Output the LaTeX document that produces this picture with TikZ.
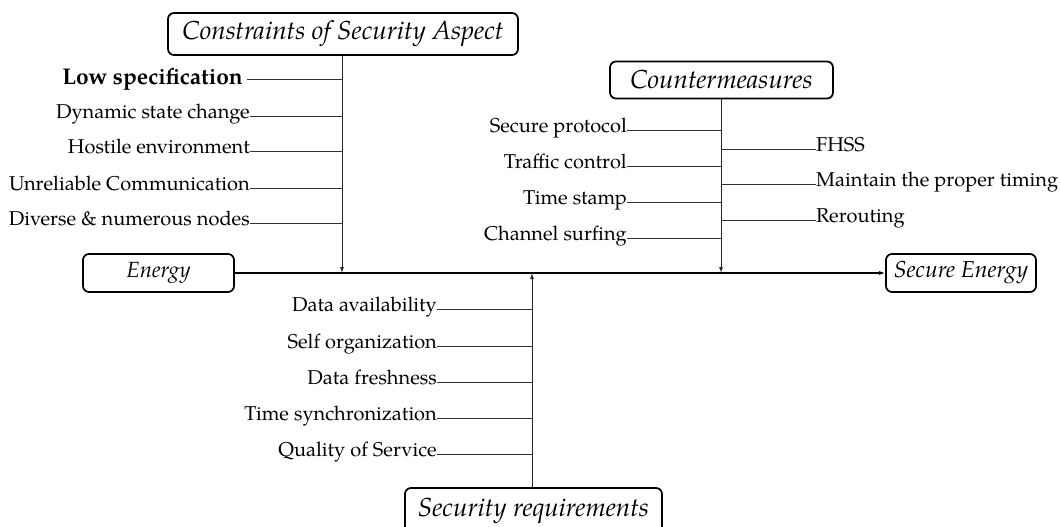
\documentclass[tikz,border=0pt]{standalone}
\usepackage{fontspec}
\setmainfont{TeX Gyre Pagella}
\usetikzlibrary{arrows.meta}
\begin{document}
\begin{tikzpicture}[x=1pt,y=-1pt,
  box/.style={draw, line width=1.7pt, rounded corners=6pt, inner sep=0pt, font=\fontsize{22}{26}\selectfont\itshape},
  bigbox/.style={box, font=\fontsize{26}{30}\selectfont\itshape},
  lbl/.style={inner sep=0pt, anchor=base east, font=\fontsize{20}{24}\selectfont},
  rlbl/.style={inner sep=0pt, anchor=base west, font=\fontsize{20}{24}\selectfont},
  conn/.style={line width=0.9pt, draw=black!80},
  trunk/.style={line width=1pt, draw=black!85},
  tip/.style={-{Latex[length=6pt,width=4pt]}}]
\useasboundingbox (0,0) rectangle (1061,527);
% boxes
\node[bigbox, minimum width=350pt, minimum height=42pt] (csa) at (343,34) {Constraints of Security Aspect};
\node[box, minimum width=151pt, minimum height=38pt] (energy) at (158.5,273) {Energy};
\node[box, minimum width=150pt, minimum height=38pt, font=\fontsize{23}{27}\selectfont\itshape] (secure) at (961,273) {Secure Energy};
\node[bigbox, minimum width=223pt, minimum height=37pt] (cm) at (721.5,80) {Countermeasures};
\node[bigbox, minimum width=257pt, minimum height=46pt] (sr) at (533.5,511) {Security requirements};
% main line
\draw[line width=1.4pt, tip] (energy.east) -- (secure.west);
% trunks
\coordinate (csaEnd) at (342,273);
\coordinate (cmEnd) at (721,273);
\coordinate (srEnd) at (532,273);
\draw[trunk, tip] (csa.south -| csaEnd) -- (csaEnd);
\draw[trunk, tip] (cm.south -| cmEnd) -- (cmEnd);
\draw[trunk, tip] (sr.north -| srEnd) -- (srEnd);
% constraints labels
\coordinate (a1s) at (247,79);
\node[lbl, font=\fontsize{22.7}{26}\selectfont\bfseries] (a1) at ([shift={(-4,5.5)}]a1s) {Low specification};
\draw[conn] (a1s) -- (a1s -| csaEnd);
\foreach \n/\y/\x/\t in {a2/116/250/{Dynamic state change},a3/151/250/{Hostile environment},a4/188/250/{Unreliable Communication},a5/223/250/{Diverse \& numerous nodes}}{
  \coordinate (\n s) at (\x,\y);
  \node[lbl] (\n) at ([shift={(0,2.5)}]\n s) {\t};
  \draw[conn] (\n s) -- (\n s -| csaEnd);
}
% countermeasure left labels
\foreach \n/\y/\t in {b1/130/{Secure protocol},b2/166/{Traffic control},b3/202/{Time stamp},b4/238/{Channel surfing}}{
  \coordinate (\n s) at (627,\y);
  \node[lbl] (\n) at ([shift={(0,2.5)}]\n s) {\t};
  \draw[conn] (\n s) -- (\n s -| cmEnd);
}
% countermeasure right labels
\foreach \n/\y/\t in {d1/149/{FHSS},d2/184/{Maintain the proper timing},d3/220/{Rerouting}}{
  \coordinate (\n s) at (816,\y);
  \node[rlbl] (\n) at ([shift={(0,2.5)}]\n s) {\t};
  \draw[conn] (\n s) -- (\n s -| cmEnd);
}
% requirement labels
\foreach \n/\y/\t in {e1/309/{Data availability},e2/346/{Self organization},e3/382/{Data freshness},e4/418/{Time synchronization},e5/454/{Quality of Service}}{
  \coordinate (\n s) at (437,\y);
  \node[lbl] (\n) at ([shift={(0,2.5)}]\n s) {\t};
  \draw[conn] (\n s) -- (\n s -| srEnd);
}
\end{tikzpicture}
\end{document}
